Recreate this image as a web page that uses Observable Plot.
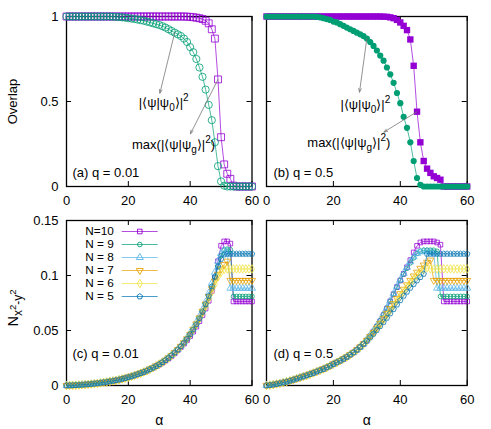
<!DOCTYPE html>
<html><head><meta charset="utf-8">
<script src="https://cdn.jsdelivr.net/npm/d3@7"></script>
<script src="https://cdn.jsdelivr.net/npm/@observablehq/plot@0.6"></script>
<style>
body{margin:0;background:#fff;}
#fig{position:relative;width:491px;height:429px;background:#fff;overflow:hidden;}
</style></head><body><div id="fig"></div>
<script>
// ---------- data ----------
const alpha = [0,1,2,3,4,5,6,7,8,9,10,11,12,13,14,15,16,17,18,19,20,21,22,23,24,25,26,27,28,29,30,
  31,32,33,34,35,36,37,38,39,40,41,42,43,44,45,46,47,48,49,50,51,52,53,54,55,56,57,58,59,60];

const xTicks = [0,20,40,60];
const xTickLabels = ["0","20","40","60"];
const yTicksOverlap = [0,0.5,1];
const yTickLabelsOverlap = ["0","0.5","1"];
const yTicksN = [0,0.05,0.1,0.15];
const yTickLabelsN = ["0","0.05","0.1","0.15"];

// (a) q = 0.01
const ovA_psi0 = [1,1,1,1,1,1,1,1,1,1,1,1,1,1,1,
  .999,.998,.997,.995,.993,.99,.988,.985,.982,.978,
  .975,.97,.965,.96,.955,.95,.943,.935,.925,.915,
  .905,.895,.885,.87,.85,.82,.79,.75,.70,.645,
  .57,.48,.39,.26,.12,.03,.005,
  0,0,0,0,0,0,0,0,0];
const ovA_max = [1,1,1,1,1,1,1,1,1,1,1,1,1,1,1,1,1,1,1,1,1,1,1,1,1,1,1,1,1,1,1,1,1,1,1,1,1,1,1,
  .999,.998,.996,.993,.99,.985,.975,.96,.925,.87,
  .63,.29,.13,.075,.045,.005,
  0,0,0,0,0,0];
// (b) q = 0.5
const ovB_psi0 = [1,1,1,1,1,1,1,1,1,1,1,1,1,1,1,
  .998,.995,.99,.985,.98,.97,.965,.955,.945,.935,
  .925,.915,.905,.895,.885,.87,.85,.827,.80,.77,
  .74,.70,.66,.61,.55,.49,.41,.345,.26,.15,
  .05,.01,
  0,0,0,0,0,0,0,0,0,0,0,0,0,0];
const ovB_max = [1,1,1,1,1,1,1,1,1,1,1,1,1,1,1,1,1,1,1,1,1,1,1,1,1,1,1,1,1,1,1,1,1,1,1,
  .999,.998,.995,.99,.98,.965,.945,.92,.865,.71,
  .44,.26,.15,.105,.08,.06,.05,.04,
  0,0,0,0,0,0,0,0];

const seriesNames = ["N=10","N = 9","N = 8","N = 7","N = 6","N = 5"];

// (c) q = 0.01
const nC10 = [0,.0001,.0002,.0003,.0005,.0007,.0009,.0011,.0014,.0017,.002,.0024,.0028,.0032,.0037,.0042,.0047,.0053,.006,.0067,
  .0075,.0083,.0092,.0102,.0112,.0123,.0135,.0148,.0162,.0177,
  .019,.0207,.0226,.0246,.0268,.0293,
  .0322,.035,.038,.0413,.045,.049,.0535,.0585,.064,.07,.077,.086,.098,.113,.127,.131,.131,.129,
  .0764,.0764,.0764,.0764,.0764,.0764,.0764];
const nC9 = [0,.0001,.0002,.0003,.0005,.0007,.0009,.0011,.0014,.0017,.002,.0024,.0028,.0032,.0037,.0042,.0047,.0053,.006,.0067,
  .0075,.0083,.0092,.0102,.0112,.0123,.0135,.0148,.0162,.0177,
  .0193,.0211,.023,.0251,.0274,.0299,
  .0326,.0356,.0389,.0425,.0465,.0508,.0555,.0606,.0661,.0725,.0795,.088,.098,.109,.118,.123,.124,.1235,
  .081,.081,.081,.081,.081,.081,.081];
const nC8 = [0,.0001,.0002,.0003,.0005,.0007,.0009,.0011,.0014,.0017,.002,.0024,.0028,.0032,.0037,.0042,.0047,.0053,.006,.0067,
  .0075,.0083,.0092,.0102,.0112,.0123,.0135,.0148,.0162,.0177,
  .0195,.0214,.0234,.0256,.028,.0305,
  .033,.0362,.0397,.0436,.0478,.0524,.0575,.063,.069,.076,.084,.093,.103,.113,.12,.123,.122,
  .0885,.0885,.0885,.0885,.0885,.0885,.0885,.0885];
const nC7 = [0,.0001,.0002,.0003,.0005,.0007,.0009,.0011,.0014,.0017,.002,.0024,.0028,.0032,.0037,.0042,.0047,.0053,.006,.0067,
  .0075,.0083,.0092,.0102,.0112,.0123,.0135,.0148,.0162,.0177,
  .0193,.0211,.023,.0251,.0274,.0299,
  .0326,.0356,.0389,.0425,.0465,.051,.056,.0615,.0675,.074,.081,.088,.095,.101,.106,.11,.113,
  .0955,.0955,.0955,.0955,.0955,.0955,.0955,.0955];
const nC6 = [0,.0001,.0002,.0003,.0005,.0007,.0009,.0011,.0014,.0017,.002,.0024,.0028,.0032,.0037,.0042,.0047,.0053,.006,.0067,
  .0075,.0083,.0092,.0102,.0112,.0123,.0135,.0148,.0162,.0177,
  .0193,.0211,.023,.0251,.0274,.0299,
  .0326,.0356,.0389,.0425,.0465,.0508,.0555,.0606,.0661,.072,.0785,.085,.092,.0985,.103,.1055,
  .106,.106,.106,.106,.106,.106,.106,.106,.106];
const nC5 = [0,.0001,.0002,.0003,.0005,.0007,.0009,.0011,.0014,.0017,.002,.0024,.0028,.0032,.0037,.0042,.0047,.0053,.006,.0067,
  .0075,.0083,.0092,.0102,.0112,.0123,.0135,.0148,.0162,.0177,
  .0193,.0211,.023,.0251,.0274,.0299,
  .0326,.0356,.0389,.0425,.0465,.0508,.0555,.061,.067,.074,.0815,.09,.099,.108,.115,.119,
  .1197,.1197,.1197,.1197,.1197,.1197,.1197,.1197,.1197];

// (d) q = 0.5
const nD10 = [0,.0004,.0008,.0014,.002,.0027,.0034,.0043,.0052,.0062,.0072,.0082,.0092,.0103,.0114,.0126,.0138,.015,.0164,.0179,
  .0195,.021,.0225,.0242,.026,.028,.03,.0324,.035,.0378,
  .041,.0448,.049,.0535,.0585,.064,.07,.0765,.083,.0895,.0955,.1015,.1075,.114,.121,.127,.13,.131,.131,.131,.131,.13,.128,
  .0764,.0764,.0764,.0764,.0764,.0764,.0764,.0764];
const nD9 = [0,.0004,.0008,.0014,.002,.0027,.0034,.0043,.0052,.0062,.0072,.0082,.0092,.0103,.0114,.0126,.0138,.015,.0164,.0179,
  .0195,.021,.0225,.0242,.026,.028,.03,.0324,.035,.0378,
  .0415,.0452,.0494,.054,.059,.0645,.0703,.0765,.083,.0893,.0955,.1012,.1065,.1115,.116,.12,.122,.123,.123,.123,.123,.122,
  .081,.081,.081,.081,.081,.081,.081,.081,.081];
const nD8 = [0,.0004,.0008,.0014,.002,.0027,.0034,.0043,.0052,.0062,.0072,.0082,.0092,.0103,.0114,.0126,.0138,.015,.0164,.0179,
  .0195,.021,.0225,.0242,.026,.028,.03,.0324,.035,.0378,
  .042,.0458,.05,.0546,.0596,.065,.0708,.077,.0835,.09,.096,.102,.1075,.1125,.117,.12,.1215,.122,.122,.1215,.1205,
  .0885,.0885,.0885,.0885,.0885,.0885,.0885,.0885,.0885,.0885];
const nD7 = [0,.0004,.0008,.0014,.002,.0027,.0034,.0043,.0052,.0062,.0072,.0082,.0092,.0103,.0114,.0126,.0138,.015,.0164,.0179,
  .0195,.021,.0225,.0242,.026,.028,.03,.0324,.035,.0378,
  .041,.0445,.0482,.0522,.0565,.061,.0655,.07,.0745,.079,.0835,.0875,.0915,.0955,.0995,.103,.1065,.1095,.112,.114,
  .0955,.0955,.0955,.0955,.0955,.0955,.0955,.0955,.0955,.0955,.0955];
const nD6 = [0,.0004,.0008,.0014,.002,.0027,.0034,.0043,.0052,.0062,.0072,.0082,.0092,.0103,.0114,.0126,.0138,.015,.0164,.0179,
  .0195,.021,.0225,.0242,.026,.028,.03,.0324,.035,.0378,
  .041,.0443,.0478,.0515,.0555,.0597,.064,.0683,.0727,.077,.0812,.0853,.0893,.0932,.0968,.1,.103,.1055,.107,
  .106,.106,.106,.106,.106,.106,.106,.106,.106,.106,.106,.106];
const nD5 = [0,.0004,.0008,.0014,.002,.0027,.0034,.0043,.0052,.0062,.0072,.0082,.0092,.0103,.0114,.0126,.0138,.015,.0164,.0179,
  .0195,.021,.0225,.0242,.026,.028,.03,.0324,.035,.0378,
  .0405,.0437,.047,.0505,.054,.0577,.0615,.0655,.0695,.0735,.0775,.0815,.0852,.0888,.0922,.0955,.0985,.1015,
  .1197,.1197,.1197,.1197,.1197,.1197,.1197,.1197,.1197,.1197,.1197,.1197,.1197];

// annotation texts and anchors (data coordinates)
const LBL0 = "|⟨ψ|ψ0⟩|2", LBLG = "max(|⟨ψ|ψg⟩|2)";
const notesA = [{x: 23.4, y: 0.49, label: LBL0}, {x: 21.2, y: 0.245, label: LBLG}];
const notesB = [{x: 22.1, y: 0.483, label: LBL0}, {x: 12.2, y: 0.256, label: LBLG}];
const arrowsA = [{from: 35, series: ovA_psi0, x2: 30.2, y2: 0.549}, {from: 49, series: ovA_max, x2: 40.1, y2: 0.31}];
const arrowsB = [{from: 30, series: ovB_psi0, x2: 27.8, y2: 0.555}, {from: 45, series: ovB_max, x2: 35.1, y2: 0.32}];

// ---------- styles ----------
const FONT = '"Liberation Sans", Arial, Helvetica, sans-serif';
const C = ["#9400d3","#009e73","#56b4e9","#e69f00","#f0e442","#0072b2"];
const TICK = 5;
const pentagon = {draw(ctx, size) {
  const r = Math.sqrt(size / 2.378);
  for (let k = 0; k < 5; ++k) {
    const a = -Math.PI / 2 + k * 2 * Math.PI / 5;
    k ? ctx.lineTo(r * Math.cos(a), r * Math.sin(a)) : ctx.moveTo(r * Math.cos(a), r * Math.sin(a));
  }
  ctx.closePath();
}};
const nStyles = [
  {symbol: "square", r: 2.6, rotate: 0},
  {symbol: "circle", r: 2.3, rotate: 0},
  {symbol: "triangle", r: 2.6, rotate: 0},
  {symbol: "triangle", r: 2.6, rotate: 180},
  {symbol: "diamond", r: 2.6, rotate: 0},
  {symbol: pentagon, r: 2.5, rotate: 0}
];

const rich = {
  [LBL0]: [["|⟨ψ|ψ",0,13],["0",4,10],["⟩|",0,13],["2",-6,10]],
  [LBLG]: [["max(|⟨ψ|ψ",0,13],["g",4,10],["⟩|",0,13],["2",-6,10],[")",0,13]],
  "Nx2-y2": [["N",0,14.5],["x",4.5,12],["2",-1.5,9.5],["-y",4.5,12],["2",-1.5,9.5]]
};

const fig = document.getElementById("fig");
function place(el, left, top) {
  el.style.position = "absolute"; el.style.left = left + "px"; el.style.top = top + "px";
  fig.appendChild(el);
}
const tbl = (vals) => alpha.map((a, i) => ({a, v: vals[i]}));

function panel(cfg) {
  const innerW = cfg.width - cfg.mL - cfg.mR;
  const innerH = cfg.height - cfg.mT - cfg.mB;
  const marks = [
    Plot.frame({stroke: "black", strokeWidth: 1.3}),
    Plot.tickX(xTicks, {x: d => d, insetTop: innerH - TICK, stroke: "black"}),
    Plot.tickX(xTicks, {x: d => d, insetBottom: innerH - TICK, stroke: "black"}),
    Plot.tickY(cfg.yTicks, {y: d => d, insetRight: innerW - TICK, stroke: "black"}),
    Plot.tickY(cfg.yTicks, {y: d => d, insetLeft: innerW - TICK, stroke: "black"}),
    Plot.text(xTicks, {x: d => d, text: (d, i) => xTickLabels[i], frameAnchor: "bottom", lineAnchor: "top", dy: 9})
  ];
  if (cfg.yLabels) marks.push(Plot.text(cfg.yTicks, {y: d => d, text: (d, i) => cfg.yLabels[i], frameAnchor: "left", textAnchor: "end", lineAnchor: "middle", dx: -8}));
  marks.push(...cfg.marks);
  marks.push(Plot.text([cfg.tag], {frameAnchor: "bottom-left", textAnchor: "start", lineAnchor: "middle", dx: cfg.tagDx, dy: cfg.tagDy}));
  const svg = Plot.plot({
    width: cfg.width, height: cfg.height,
    marginLeft: cfg.mL, marginRight: cfg.mR, marginTop: cfg.mT, marginBottom: cfg.mB,
    x: {domain: [0, 60], axis: null},
    y: {domain: cfg.yDomain, axis: null},
    style: {fontSize: "13px", fontFamily: FONT, background: "none", overflow: "visible", color: "black"},
    marks
  });
  place(svg, cfg.left, cfg.top);
}

function overlapMarks(series, filled, notes, arrows) {
  const m = [];
  for (const s of series) {
    const d = tbl(s.vals);
    m.push(Plot.line(d, {x: "a", y: "v", stroke: s.color, strokeWidth: 1, strokeOpacity: 0.7}));
    m.push(Plot.dot(d, filled
      ? {x: "a", y: "v", symbol: s.symbol, r: s.r, fill: s.color, stroke: "none"}
      : {x: "a", y: "v", symbol: s.symbol, r: s.r, fill: "none", stroke: s.color, strokeWidth: 1, strokeOpacity: 0.8}));
  }
  const arr = arrows.map(o => ({x1: o.from, y1: o.series[alpha.indexOf(o.from)], x2: o.x2, y2: o.y2}));
  m.push(Plot.arrow(arr, {x1: "x1", y1: "y1", x2: "x2", y2: "y2", stroke: "#777", strokeWidth: 0.8, headLength: 7, headAngle: 40}));
  m.push(Plot.text(notes, {x: "x", y: "y", text: "label", textAnchor: "start", lineAnchor: "middle"}));
  return m;
}

function nMarks(arrs) {
  const m = [];
  arrs.forEach((vals, i) => {
    const d = tbl(vals), st = nStyles[i];
    m.push(Plot.line(d, {x: "a", y: "v", stroke: C[i], strokeWidth: 1, strokeOpacity: 0.7}));
    m.push(Plot.dot(d, {x: "a", y: "v", symbol: st.symbol, r: st.r, rotate: st.rotate, fill: "none", stroke: C[i], strokeWidth: 0.9, strokeOpacity: 0.85}));
  });
  return m;
}

// (a)
panel({left: 0, top: 0, width: 260, height: 212, mL: 66, mR: 8.5, mT: 16, mB: 26,
  yDomain: [0, 1], yTicks: yTicksOverlap, yLabels: yTickLabelsOverlap,
  tag: "(a) q = 0.01", tagDx: 6, tagDy: -14,
  marks: [
    ...overlapMarks([
      {vals: ovA_max, color: C[0], symbol: "square", r: 3.9},
      {vals: ovA_psi0, color: C[1], symbol: "circle", r: 3.6}
    ], false, notesA, arrowsA),
    Plot.text(["Overlap"], {frameAnchor: "left", dx: -54, rotate: -90, textAnchor: "middle", lineAnchor: "middle"})
  ]});
// (b)
panel({left: 260, top: 0, width: 231, height: 212, mL: 6, mR: 24.3, mT: 16, mB: 26,
  yDomain: [0, 1], yTicks: yTicksOverlap, yLabels: null,
  tag: "(b) q = 0.5", tagDx: 7, tagDy: -14,
  marks: overlapMarks([
      {vals: ovB_max, color: C[0], symbol: "square", r: 3.6},
      {vals: ovB_psi0, color: C[1], symbol: "circle", r: 3.1}
    ], true, notesB, arrowsB)});
// (c)
panel({left: 0, top: 212, width: 260, height: 217, mL: 66, mR: 8.5, mT: 8, mB: 44,
  yDomain: [0, 0.15], yTicks: yTicksN, yLabels: yTickLabelsN,
  tag: "(c) q = 0.01", tagDx: 6, tagDy: -32,
  marks: [
    ...nMarks([nC10, nC9, nC8, nC7, nC6, nC5]),
    Plot.text(["Nx2-y2"], {frameAnchor: "left", dx: -53, dy: 5, rotate: -90, textAnchor: "middle", lineAnchor: "middle"}),
    Plot.text(["α"], {frameAnchor: "bottom", dy: 35, lineAnchor: "middle", fontSize: 14})
  ]});
// (d)
panel({left: 260, top: 212, width: 231, height: 217, mL: 6, mR: 24.3, mT: 8, mB: 44,
  yDomain: [0, 0.15], yTicks: yTicksN, yLabels: null,
  tag: "(d) q = 0.5", tagDx: 7, tagDy: -32,
  marks: [
    ...nMarks([nD10, nD9, nD8, nD7, nD6, nD5]),
    Plot.text(["α"], {frameAnchor: "bottom", dy: 35, lineAnchor: "middle", fontSize: 14})
  ]});

// legend of panel (c)
{
  const lm = [];
  seriesNames.forEach((name, i) => {
    const st = nStyles[i];
    lm.push(Plot.ruleY([name], {y: d => d, insetLeft: 55.7, insetRight: 8.3, stroke: C[i], strokeWidth: 1, strokeOpacity: 0.7}));
    lm.push(Plot.dot([name], {y: d => d, frameAnchor: "left", dx: 73.3, symbol: st.symbol, r: st.r, rotate: st.rotate, fill: "none", stroke: C[i], strokeWidth: 0.9}));
    lm.push(Plot.text([name], {y: d => d, frameAnchor: "left", dx: 47.3, textAnchor: "end", lineAnchor: "middle"}));
  });
  const leg = Plot.plot({
    width: 100, height: 90, margin: 0,
    y: {type: "point", domain: seriesNames, range: [9.6, 77.8], padding: 0, axis: null},
    style: {fontSize: "11.8px", fontFamily: FONT, background: "none", overflow: "visible", color: "black"},
    marks: lm
  });
  place(leg, 66, 220);
}

// rich text (sub/superscripts)
fig.querySelectorAll("text").forEach(t => {
  const segs = rich[t.textContent];
  if (!segs) return;
  t.textContent = "";
  let prev = 0;
  for (const [s, off, fs] of segs) {
    const ts = document.createElementNS("http://www.w3.org/2000/svg", "tspan");
    ts.setAttribute("dy", off - prev); prev = off;
    ts.setAttribute("font-size", fs);
    ts.textContent = s;
    t.appendChild(ts);
  }
});
</script></body></html>
